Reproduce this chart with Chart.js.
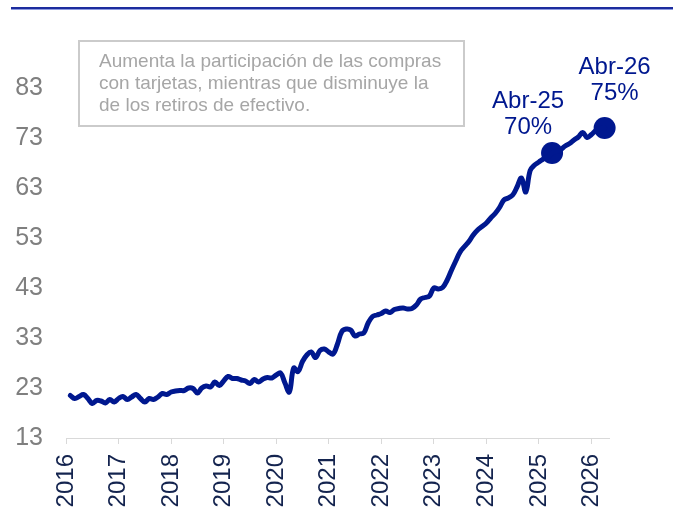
<!DOCTYPE html>
<html lang="es">
<head>
<meta charset="utf-8">
<title>Participación de compras con tarjeta</title>
<script src="https://cdn.jsdelivr.net/npm/chart.js@4/dist/chart.umd.min.js"></script>
<style>
  html, body { margin: 0; padding: 0; background: #fff; }
  #marco { position: relative; width: 673px; height: 514px; overflow: hidden; }
  #regla { position: absolute; left: 11px; right: 0; top: 7px; height: 2px; background: #1c2c9e; border-bottom: 1px solid #8d9ae0; }
  #nota {
    position: absolute; left: 78px; top: 40px; width: 387px; height: 87px;
    box-sizing: border-box; border: 2px solid #cbcbcb;
    padding: 8px 0 0 19px;
    font: 19px/22px "Liberation Sans", Arial, sans-serif; color: #a6a6a6;
    white-space: nowrap;
  }
  canvas { position: absolute; left: 0; top: 0; }
</style>
</head>
<body>
<div id="marco">
  <canvas id="grafico" width="673" height="514"></canvas>
  <div id="regla"></div>
  <div id="nota">Aumenta la participación de las compras<br>con tarjetas, mientras que disminuye la<br>de los retiros de efectivo.</div>
</div>
<script>
// Serie mensual (%), desde feb-2016 (mes 1, contando ene-2016 = 0) hasta abr-2026
const MES_INICIO = 1;
const PARTICIPACION = [
  21.5, 20.9, 21.3, 21.7, 20.9, 19.9, 20.5, 20.4, 20.0, 20.7, 20.2,       // 2016
  20.9, 21.3, 20.7, 21.2, 21.7, 20.9, 20.2, 20.9, 20.7, 21.2, 21.9, 21.7, // 2017
  22.2, 22.4, 22.5, 22.5, 23.0, 22.9, 22.0, 23.0, 23.4, 23.2, 24.2, 23.5, // 2018
  24.4, 25.3, 24.9, 24.9, 24.6, 24.4, 23.9, 24.7, 24.2, 24.8, 25.1, 25.0, // 2019
  25.6, 26.0, 24.0, 22.2, 27.0, 26.3, 28.3, 29.6, 30.2, 29.1, 30.5, 30.8, // 2020
  30.2, 29.8, 31.8, 34.3, 34.8, 34.6, 33.4, 33.8, 34.0, 36.0, 37.3, 37.6, // 2021
  37.9, 38.4, 38.1, 38.7, 38.9, 39.0, 38.8, 38.9, 39.6, 40.8, 41.1, 41.4, // 2022
  43.0, 42.8, 43.1, 44.5, 46.5, 48.4, 50.2, 51.3, 52.3, 53.6, 54.6, 55.3, // 2023
  56.0, 57.0, 57.9, 59.1, 60.6, 61.0, 61.6, 63.2, 65.0, 62.2, 66.5, 67.6, // 2024
  68.2, 68.8, 69.2, 70.0, 70.3, 70.7, 71.4, 71.9, 72.6, 73.2, 74.1, 73.1, // 2025
  73.7, 74.5, 74.9, 75.0                                                  // 2026
];

// Hitos destacados: mes (ene-2016 = 0), valor y etiqueta
const HITO_MESES = [111, 123];
const HITO_VALORES = [70, 75];
const HITO_ETIQUETAS = ['Abr-25', 'Abr-26'];

const ANOS = ['2016', '2017', '2018', '2019', '2020', '2021', '2022', '2023', '2024', '2025', '2026'];
const Y_TICKS = [13, 23, 33, 43, 53, 63, 73, 83];

const AZUL = '#00188f';
const FUENTE = '"Liberation Sans", Arial, sans-serif';

const puntosSerie = PARTICIPACION.map((v, i) => ({ x: MES_INICIO + i, y: v }));
const puntosHitos = HITO_MESES.map((m, i) => ({ x: m, y: HITO_VALORES[i] }));

// desplazamiento del texto respecto a cada punto destacado
const OFFSET_ETIQ = [{ dx: -24, dy: -52 }, { dx: 10, dy: -61 }];

const etiquetasHitos = {
  id: 'etiquetasHitos',
  afterDatasetsDraw(chart) {
    const { ctx, scales: { x, y } } = chart;
    ctx.save();
    ctx.font = '24px ' + FUENTE;
    ctx.fillStyle = AZUL;
    ctx.textAlign = 'center';
    ctx.textBaseline = 'middle';
    HITO_MESES.forEach((m, i) => {
      const px = x.getPixelForValue(m) + OFFSET_ETIQ[i].dx;
      const py = y.getPixelForValue(HITO_VALORES[i]) + OFFSET_ETIQ[i].dy;
      ctx.fillText(HITO_ETIQUETAS[i], px, py);
      ctx.fillText(HITO_VALORES[i] + '%', px, py + 26);
    });
    ctx.restore();
  }
};

new Chart(document.getElementById('grafico'), {
  type: 'line',
  data: {
    datasets: [
      {
        data: puntosSerie,
        borderColor: AZUL,
        borderWidth: 5,
        borderCapStyle: 'round',
        borderJoinStyle: 'round',
        pointRadius: 0,
        tension: 0.4,
        fill: false,
        clip: false
      },
      {
        data: puntosHitos,
        showLine: false,
        pointRadius: 11,
        pointBackgroundColor: AZUL,
        pointBorderColor: AZUL,
        pointBorderWidth: 0,
        clip: false
      }
    ]
  },
  options: {
    responsive: false,
    animation: false,
    devicePixelRatio: 1,
    layout: { padding: { top: 38, right: 64, bottom: 0, left: 0 } },
    plugins: { legend: { display: false }, tooltip: { enabled: false } },
    scales: {
      x: {
        type: 'linear',
        min: 0,
        max: 124,
        afterBuildTicks: s => { s.ticks = ANOS.map((_, i) => ({ value: i * 12 })); },
        afterFit: s => { s.height = 76; },
        border: { color: '#d9d9d9', width: 1 },
        grid: { drawOnChartArea: false, color: '#d9d9d9', tickLength: 6 },
        ticks: {
          minRotation: 90,
          maxRotation: 90,
          padding: 10,
          color: '#14244f',
          font: { family: FUENTE, size: 24 },
          callback: v => ANOS[v / 12]
        }
      },
      y: {
        min: 13,
        max: 93,
        afterBuildTicks: s => { s.ticks = Y_TICKS.map(v => ({ value: v })); },
        afterFit: s => { s.width = 66; },
        border: { display: false },
        grid: { display: false },
        ticks: {
          padding: 15,
          color: '#7f7f7f',
          font: { family: FUENTE, size: 25 }
        }
      }
    }
  },
  plugins: [etiquetasHitos]
});
</script>
</body>
</html>
